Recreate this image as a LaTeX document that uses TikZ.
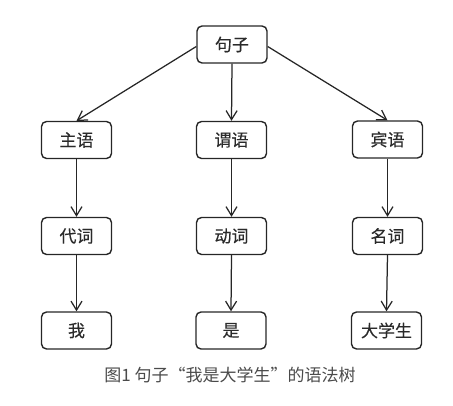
\documentclass[tikz,border=0pt]{standalone}
\usepackage{fontspec}
\newfontfamily\cjk{Noto Sans CJK SC}
\newfontfamily\cjkb[FakeBold=0.3]{Noto Sans CJK SC}
\usetikzlibrary{arrows.meta}
\definecolor{boxtext}{HTML}{2A2A2A}
\definecolor{captext}{HTML}{4A4A4A}
\begin{document}
\begin{tikzpicture}[x=1pt,y=-1pt,
  tbox/.style={draw=black!85,line width=1.4pt,rounded corners=5pt,minimum width=70pt,minimum height=37pt,inner sep=0pt,font=\cjkb\fontsize{17}{17}\selectfont,text=boxtext},
  arr/.style={draw=black!85,line width=1.25pt,-{Straight Barb[length=9pt,width=11pt,line width=1.25pt]}}]
\useasboundingbox (0,0) rectangle (453,406);
\node[tbox] (s) at (232,44.5) {句子};
\node[tbox] (zy) at (76.5,140) {主语};
\node[tbox] (wy) at (231.5,140) {谓语};
\node[tbox] (by) at (387.5,139.5) {宾语};
\node[tbox] (dc) at (76.5,236) {代词};
\node[tbox] (dongc) at (231.5,236) {动词};
\node[tbox] (mc) at (387.5,236) {名词};
\node[tbox] (w) at (76.5,330.5) {我};
\node[tbox] (shi) at (231,330.5) {是};
\node[tbox] (dxs) at (386.5,330.5) {大学生};
\node[font=\cjk\fontsize{17}{17}\selectfont,text=captext] (cap) at (230,375) {图1 句子“我是大学生”的语法树};
\draw[arr] ([yshift=-2pt]s.west) -- (zy.north);
\draw[arr] (s.south) -- (wy.north);
\draw[arr] ([yshift=-2pt]s.east) -- (by.north);
\draw[arr] (zy.south) -- (dc.north);
\draw[arr] (wy.south) -- (dongc.north);
\draw[arr] (by.south) -- (mc.north);
\draw[arr] (dc.south) -- (w.north);
\draw[arr] (dongc.south) -- (shi.north);
\draw[arr] (mc.south) -- (dxs.north);
\end{tikzpicture}
\end{document}
